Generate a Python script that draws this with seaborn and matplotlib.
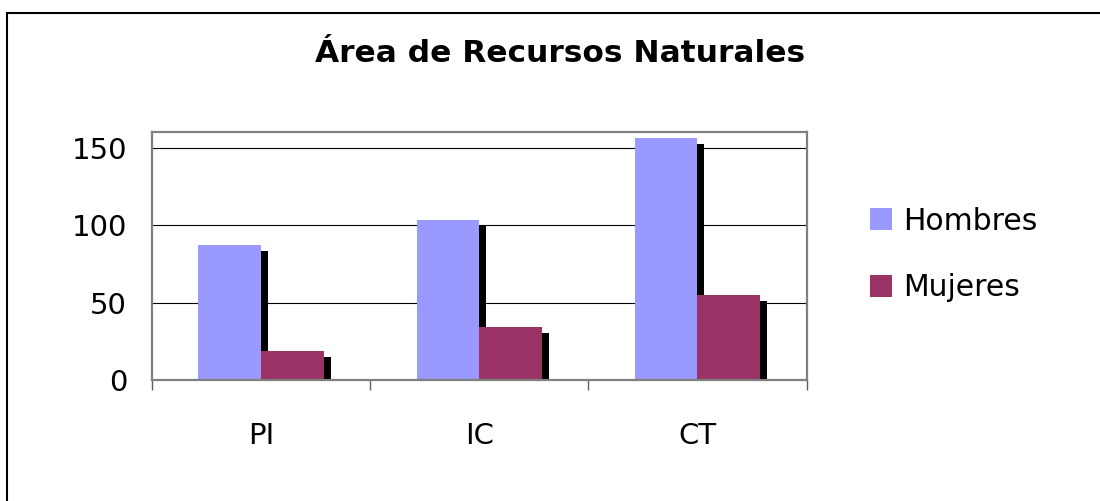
import pandas as pd
import seaborn as sns
from matplotlib import pyplot as plt
from matplotlib import patheffects as pe
from matplotlib.patches import Patch
from matplotlib.lines import Line2D

categories = ["PI", "IC", "CT"]
hombres = [87, 103, 156]
mujeres = [19, 34, 55]
series = ["Hombres", "Mujeres"]
colors = ["#9999FF", "#993366"]

data = pd.DataFrame({
    "cat": categories * 2,
    "val": hombres + mujeres,
    "serie": [series[0]] * 3 + [series[1]] * 3,
})

sns.set_style("white")
plt.rcParams["font.family"] = ["DejaVu Sans"]
plt.rcParams["text.color"] = "black"
plt.rcParams["xtick.labelcolor"] = "black"
plt.rcParams["ytick.labelcolor"] = "black"

fig = plt.figure(figsize=(11, 5.01), dpi=100)
ax = fig.add_axes([0.1382, 0.2415, 0.595, 0.495])

sns.barplot(data=data, x="cat", y="val", hue="serie", order=categories,
            hue_order=series, palette=colors, width=0.575, saturation=1,
            legend=False, ax=ax)

# excel style drop shadow on every bar
for p in ax.patches:
    p.set_linewidth(0)
    p.set_path_effects([pe.SimplePatchShadow(offset=(5, -4.3), shadow_rgbFace="black", alpha=1),
                        pe.Normal()])

ax.set_ylim(0, 160)
ax.set_xlim(-0.5, 2.5)
ax.set_yticks([0, 50, 100, 150])
ax.yaxis.grid(True, color="black", linewidth=0.8)
ax.set_axisbelow(True)
ax.tick_params(axis="y", length=0, pad=18, labelsize=21)

ax.set_xticks([-0.5, 0.5, 1.5, 2.5])
ax.set_xticklabels([])
ax.set_xticks([0, 1, 2], minor=True)
ax.set_xticklabels(categories, minor=True)
ax.tick_params(axis="x", which="major", direction="out", length=7, width=1, color="#606060", bottom=True)
ax.tick_params(axis="x", which="minor", length=0, pad=30, labelsize=21)
ax.set_xlabel("")
ax.set_ylabel("")

for s in ax.spines.values():
    s.set_visible(True)
    s.set_color("#808080")
    s.set_linewidth(1.6)

fig.text(0.509, 0.893, "Área de Recursos Naturales", ha="center", va="center",
         fontsize=22.5, fontweight="bold")

handles = [Patch(facecolor=c, edgecolor="none") for c in colors]
fig.legend(handles, series, loc="center left", bbox_to_anchor=(0.791, 0.492),
           frameon=False, fontsize=21.5, handlelength=0.75, handleheight=0.75,
           handletextpad=0.36, labelspacing=1.25, borderpad=0, borderaxespad=0)

# chart area border
fig.add_artist(Line2D([0.0064, 1], [0.974, 0.974], color="black", lw=1.5))
fig.add_artist(Line2D([0.0064, 0.0064], [0, 0.974], color="black", lw=1.5))

fig.savefig("out.png", dpi=100)
